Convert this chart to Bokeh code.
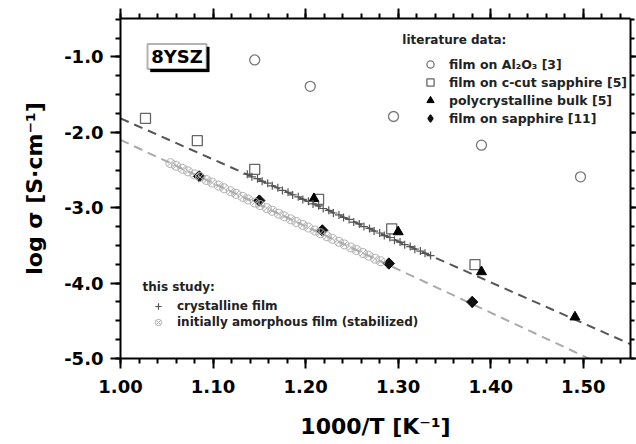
from bokeh.plotting import figure
from bokeh.models import (Range1d, LinearAxis, SingleIntervalTicker, NumeralTickFormatter,
                          Legend, LegendItem, Label, BoxAnnotation)
from bokeh.embed import file_html
from bokeh.resources import INLINE

# ---------------- data ----------------
# literature data
al2o3_x = [1.145, 1.205, 1.295, 1.390, 1.497]
al2o3_y = [-1.04, -1.39, -1.79, -2.17, -2.59]

ccut_x = [1.027, 1.083, 1.145, 1.214, 1.293, 1.383]
ccut_y = [-1.815, -2.11, -2.49, -2.89, -3.28, -3.755]

bulk_x = [1.209, 1.300, 1.390, 1.491]
bulk_y = [-2.88, -3.32, -3.85, -4.45]

sapph_x = [1.085, 1.150, 1.218, 1.290, 1.380]
sapph_y = [-2.585, -2.905, -3.30, -3.74, -4.25]

# this study
cryst_x = [1.137, 1.142, 1.148, 1.153, 1.159, 1.164, 1.170, 1.175, 1.181, 1.186,
           1.192, 1.197, 1.203, 1.208, 1.214, 1.219, 1.225, 1.230, 1.236, 1.241,
           1.247, 1.252, 1.258, 1.263, 1.269, 1.274, 1.280, 1.285, 1.291, 1.296,
           1.302, 1.307, 1.313, 1.318, 1.324, 1.329, 1.335]
cryst_y = [-2.555, -2.590, -2.615, -2.650, -2.675, -2.710, -2.735, -2.770, -2.795, -2.830,
           -2.855, -2.890, -2.915, -2.950, -2.975, -3.010, -3.035, -3.070, -3.095, -3.130,
           -3.155, -3.190, -3.215, -3.250, -3.275, -3.310, -3.335, -3.370, -3.395, -3.430,
           -3.455, -3.490, -3.515, -3.550, -3.575, -3.605, -3.635]

amorph_x = [1.054, 1.060, 1.067, 1.073, 1.080, 1.086, 1.093, 1.099, 1.106, 1.112,
            1.119, 1.125, 1.132, 1.138, 1.145, 1.151, 1.158, 1.164, 1.171, 1.177,
            1.184, 1.190, 1.197, 1.203, 1.210, 1.216, 1.223, 1.229, 1.236, 1.242,
            1.249, 1.255, 1.262, 1.268, 1.275, 1.281]
amorph_y = [-2.409, -2.444, -2.484, -2.518, -2.558, -2.593, -2.633, -2.667, -2.707, -2.742,
            -2.782, -2.816, -2.856, -2.891, -2.931, -2.965, -3.005, -3.040, -3.080, -3.114,
            -3.154, -3.189, -3.229, -3.263, -3.303, -3.338, -3.378, -3.412, -3.452, -3.487,
            -3.527, -3.561, -3.601, -3.636, -3.676, -3.710]

# dashed fit lines (end points)
fit_cryst_x = [1.00, 1.551]
fit_cryst_y = [-1.815, -4.81]
fit_amorph_x = [1.00, 1.52]
fit_amorph_y = [-2.10, -5.08]

x_ticks_interval = 0.1
y_ticks_interval = 1.0

FONT = "DejaVu Sans"

# ---------------- figure ----------------
p = figure(width=636, height=444, output_backend="svg", toolbar_location=None,
           x_range=Range1d(1.0, 1.551), y_range=Range1d(-5.0, -0.49),
           min_border_left=120, min_border_right=6, min_border_top=18, min_border_bottom=86,
           x_axis_label="1000/T [K\u207b\u00b9]", y_axis_label="log \u03c3 [S\u00b7cm\u207b\u00b9]")
p.xgrid.visible = False
p.ygrid.visible = False
p.outline_line_color = None
p.background_fill_color = "white"
p.border_fill_color = "white"

xt = SingleIntervalTicker(interval=x_ticks_interval, num_minor_ticks=5)
yt = SingleIntervalTicker(interval=y_ticks_interval, num_minor_ticks=4)


def style_axis(ax, ticker, fmt, out_major=10, out_minor=5, labels=True,
               label_standoff=7, title_standoff=14):
    ax.ticker = ticker
    ax.axis_line_width = 2
    ax.axis_line_color = "black"
    ax.major_tick_line_width = 2
    ax.minor_tick_line_width = 2
    ax.major_tick_out = out_major
    ax.major_tick_in = 0
    ax.minor_tick_out = out_minor
    ax.minor_tick_in = 0
    if labels:
        ax.formatter = NumeralTickFormatter(format=fmt)
        ax.major_label_text_font = FONT
        ax.major_label_text_font_style = "bold"
        ax.major_label_text_font_size = "18px"
        ax.major_label_text_color = "black"
        ax.major_label_standoff = label_standoff
        ax.axis_label_text_font = FONT
        ax.axis_label_text_font_style = "bold"
        ax.axis_label_text_font_size = "22px"
        ax.axis_label_text_color = "black"
        ax.axis_label_standoff = title_standoff
    else:
        ax.major_label_text_color = None
        ax.major_label_text_font_size = "1px"
        ax.major_label_standoff = 0


style_axis(p.xaxis[0], xt, "0.00", label_standoff=11, title_standoff=18)
style_axis(p.yaxis[0], yt, "0.0")

top_ax = LinearAxis()
style_axis(top_ax, SingleIntervalTicker(interval=x_ticks_interval, num_minor_ticks=5), "", labels=False)
p.add_layout(top_ax, "above")
right_ax = LinearAxis()
style_axis(right_ax, SingleIntervalTicker(interval=y_ticks_interval, num_minor_ticks=4), "",
           out_major=6, out_minor=4, labels=False)
p.add_layout(right_ax, "right")

# ---------------- fit lines ----------------
p.line(fit_cryst_x, fit_cryst_y, line_color="#555555", line_width=2, line_dash="9 6")
p.line(fit_amorph_x, fit_amorph_y, line_color="#aaaaaa", line_width=2, line_dash="9 6")

# ---------------- literature markers ----------------
r_al = p.scatter(al2o3_x, al2o3_y, marker="circle", size=10, fill_color=None,
                 line_color="#777777", line_width=1.3)
r_cc = p.scatter(ccut_x, ccut_y, marker="square", size=10, fill_color=None,
                 line_color="#666666", line_width=1.3)
r_bk = p.scatter(bulk_x, bulk_y, marker="triangle", size=10, fill_color="black",
                 line_color="black", line_width=1)
# diamond symbol (used as legend key), covered by the wider rotated square on top
r_sp_key = p.scatter(sapph_x, sapph_y, marker="diamond", size=10, fill_color="#111111",
                     line_color="#111111", line_width=1.5)
r_sp = p.scatter(sapph_x, sapph_y, marker="square", angle=0.785398, size=8, fill_color="#111111",
                 line_color="#111111", line_width=1)

# ---------------- this study ----------------
r_cr = p.scatter(cryst_x, cryst_y, marker="cross", size=8, line_color="#555555", line_width=1.2)
r_am = p.scatter(amorph_x, amorph_y, marker="circle_x", size=9, fill_color=None,
                 line_color="#b0b0b0", line_width=1)

lit_legend = Legend(items=[
    LegendItem(label="film on Al\u2082O\u2083 [3]", renderers=[r_al]),
    LegendItem(label="film on c-cut sapphire [5]", renderers=[r_cc]),
    LegendItem(label="polycrystalline bulk [5]", renderers=[r_bk]),
    LegendItem(label="film on sapphire [11]", renderers=[r_sp_key]),
], location=(300, 231), padding=0, margin=0, spacing=0, glyph_width=20, glyph_height=18,
    label_height=18, label_standoff=9, border_line_color=None, background_fill_alpha=0,
    label_text_font=FONT, label_text_font_style="bold", label_text_font_size="12.5px",
    label_text_color="#222222")
p.add_layout(lit_legend, "center")

study_legend = Legend(items=[
    LegendItem(label="crystalline film", renderers=[r_cr]),
    LegendItem(label="initially amorphous film (stabilized)", renderers=[r_am]),
], location=(28, 28), padding=0, margin=0, spacing=0, glyph_width=20, glyph_height=16,
    label_height=16, label_standoff=9, border_line_color=None, background_fill_alpha=0,
    label_text_font=FONT, label_text_font_style="bold", label_text_font_size="12px",
    label_text_color="#222222")
p.add_layout(study_legend, "center")

p.add_layout(Label(x=1.3045, y=-0.769, text="literature data:", text_font=FONT,
                   text_font_style="bold", text_font_size="12px", text_color="#222222",
                   text_baseline="middle", text_align="left"))
p.add_layout(Label(x=1.0238, y=-4.056, text="this study:", text_font=FONT,
                   text_font_style="bold", text_font_size="12px", text_color="#222222",
                   text_baseline="middle", text_align="left"))

# ---------------- 8YSZ box ----------------
p.add_layout(BoxAnnotation(left=1.0322, right=1.0960, top=-0.867, bottom=-1.199,
                           fill_color="black", fill_alpha=1, line_color="black", line_width=1,
                           level="annotation"))
p.add_layout(BoxAnnotation(left=1.0292, right=1.0930, top=-0.827, bottom=-1.1595,
                           fill_color="white", fill_alpha=1, line_color="black", line_width=2,
                           level="annotation"))
p.add_layout(Label(x=1.0611, y=-0.993, text="8YSZ", text_font=FONT, text_font_style="bold",
                   text_font_size="18px", text_color="black", text_align="center",
                   text_baseline="middle"))

open("out.html", "w").write(file_html(p, INLINE))
